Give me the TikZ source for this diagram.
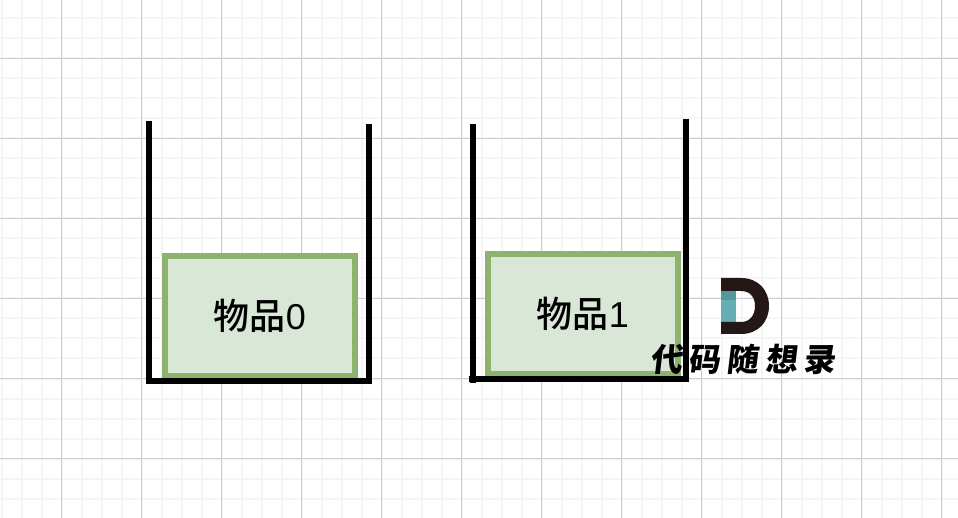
\documentclass[tikz,border=0pt]{standalone}
\usepackage{fontspec}
\newfontfamily\cjk{Noto Sans CJK SC Medium}
\newfontfamily\latn{Liberation Sans}
\newfontfamily\cjkb[LetterSpace=19,FakeSlant=0.12]{Noto Sans CJK SC Black}
\definecolor{gridmin}{HTML}{F5F5F5}
\definecolor{gridmaj}{HTML}{CCCCCC}
\definecolor{boxfill}{HTML}{D9E7D6}
\definecolor{boxline}{HTML}{8DB36F}
\definecolor{logod}{HTML}{231815}
\definecolor{teal1}{HTML}{66AEB3}
\definecolor{teal2}{HTML}{55979B}
\tikzset{
  wall/.style={line width=6pt,black},
  itembox/.style={draw=boxline,fill=boxfill,line width=6pt,inner sep=0pt,text=black,minimum width=190pt,minimum height=120pt,anchor=center,font=\fontsize{36}{36}\selectfont},
}
\begin{document}
\begin{tikzpicture}[x=1pt,y=-1pt]
\useasboundingbox (0,0) rectangle (958,518);
\fill[white] (0,0) rectangle (958,518);
\foreach \x in {1.5,21.5,...,958}{\draw[gridmin,line width=2pt] (\x,0)--(\x,518);}
\foreach \y in {18.5,38.5,...,518}{\draw[gridmin,line width=2pt] (0,\y)--(958,\y);}
\foreach \x in {61.5,141.5,...,958}{\draw[gridmaj,line width=1pt] (\x,0)--(\x,518);}
\foreach \y in {58.5,138.5,...,518}{\draw[gridmaj,line width=1pt] (0,\y)--(958,\y);}
% first bucket
\node[itembox] (item0) at (260,316) {{\cjk 物品}{\latn 0}};
\coordinate (a1) at (148.7,121); \coordinate (a2) at (148.7,381);
\coordinate (a3) at (368.7,124); \coordinate (a4) at (368.7,384);
\coordinate (a5) at (145.7,381); \coordinate (a6) at (371.7,381);
\draw[wall] (a1)--(a2);
\draw[wall] (a3)--(a4);
\draw[wall] (a5)--(a6);
% second bucket
\node[itembox] (item1) at (583,314) {{\cjk 物品}{\latn 1}};
\coordinate (b1) at (473,124); \coordinate (b2) at (473,383);
\coordinate (b3) at (686.3,119); \coordinate (b4) at (686.3,382);
\coordinate (b5) at (468.5,379); \coordinate (b6) at (689,379);
\draw[wall] (b1)--(b2);
\draw[wall] (b3)--(b4);
\draw[wall] (b5)--(b6);
% logo
\fill[teal1] (721,291) rectangle (736,322);
\fill[teal2] (721,291) rectangle (736,300.5);
\fill[logod] (721,278) -- (741,278) .. controls (758,278) and (769,290) .. (769,306) .. controls (769,322) and (758,334) .. (741,334) -- (721,334) -- (721,322) -- (741,322) .. controls (750,322) and (755,315) .. (755,306) .. controls (755,297) and (750,291) .. (741,291) -- (721,291) -- cycle;
\node[inner sep=0pt,anchor=center,font=\cjkb\fontsize{32}{32}\selectfont,text=black] (wm) at (743,359) {代码随想录};
\end{tikzpicture}
\end{document}
